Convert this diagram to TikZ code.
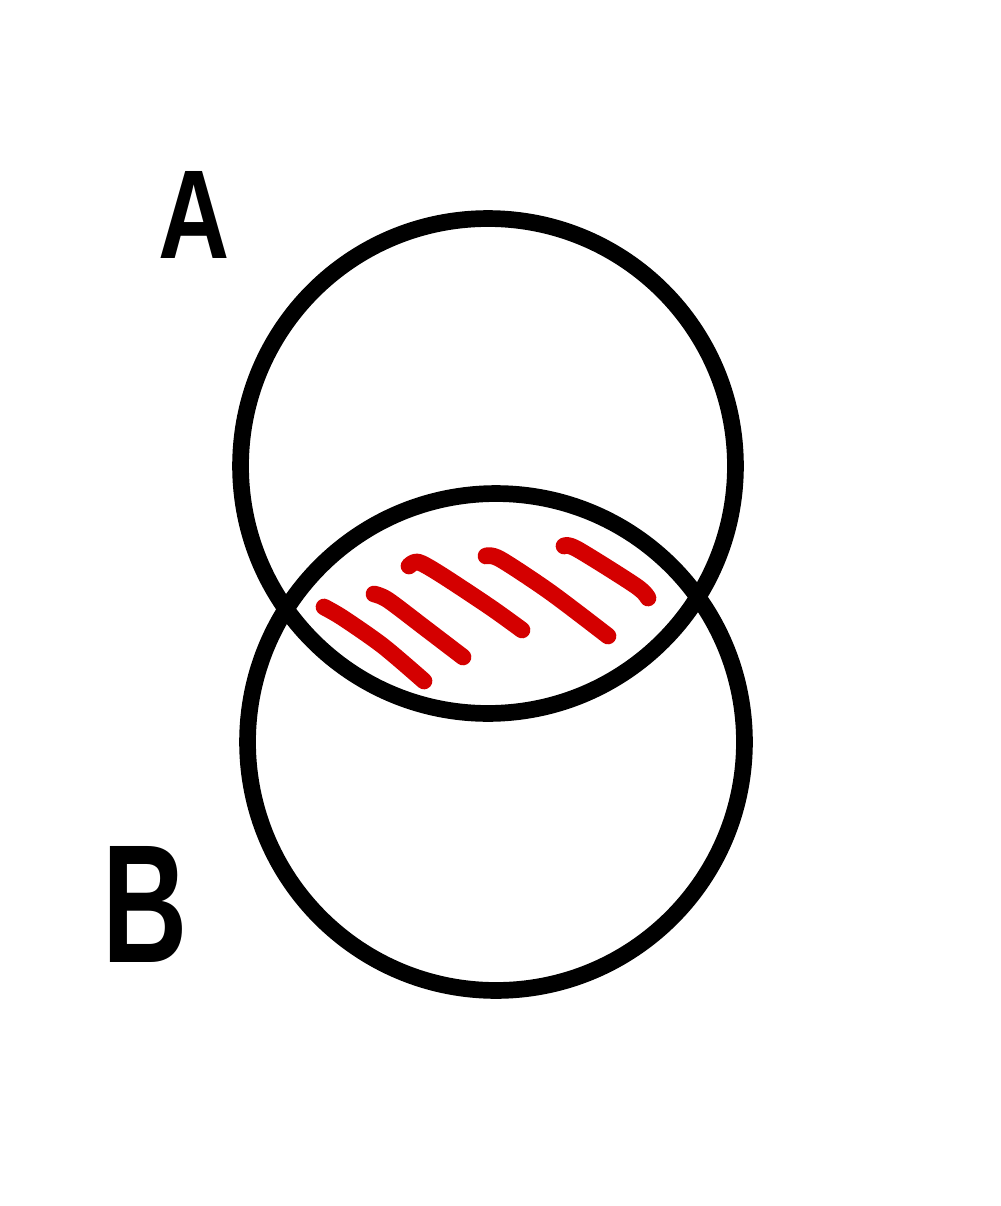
\documentclass[tikz,border=0pt]{standalone}
\usepackage{fontspec}
\setmainfont{Liberation Sans}
\begin{document}
\begin{tikzpicture}[x=0.02cm,y=-0.02cm,
  ring/.style={draw=black,line width=9.5pt},
  hatch/.style={draw=red!83!black,line width=9.5pt,line cap=round,line join=round},
  letter/.style={inner sep=0pt,anchor=base,text=black,font=\bfseries}]
\useasboundingbox[fill=white] (0,0) rectangle (1000,1206);
\node[ring,circle,minimum size=9.9cm,inner sep=0pt] (A) at (488,466) {};
\node[ring,circle,minimum size=9.94cm,inner sep=0pt] (B) at (496,742) {};
\node[letter,font=\bfseries\fontsize{72}{80}\selectfont,xscale=0.78] (la) at (194,258) {A};
\node[letter,font=\bfseries\fontsize{96}{110}\selectfont,xscale=0.7] (lb) at (145,962) {B};
\draw[hatch] plot[smooth] coordinates {(324,607) (343,618) (383,646) (424,681)};
\draw[hatch] plot[smooth] coordinates {(374,594) (388,600) (425,628) (463,657)};
\draw[hatch] plot[smooth] coordinates {(409,566) (418,562) (440,574) (490,607) (522,630)};
\draw[hatch] plot[smooth] coordinates {(486,556) (500,559) (550,592) (608,636)};
\draw[hatch] plot[smooth] coordinates {(564,546) (577,549) (636,586) (648,598)};
\end{tikzpicture}
\end{document}
